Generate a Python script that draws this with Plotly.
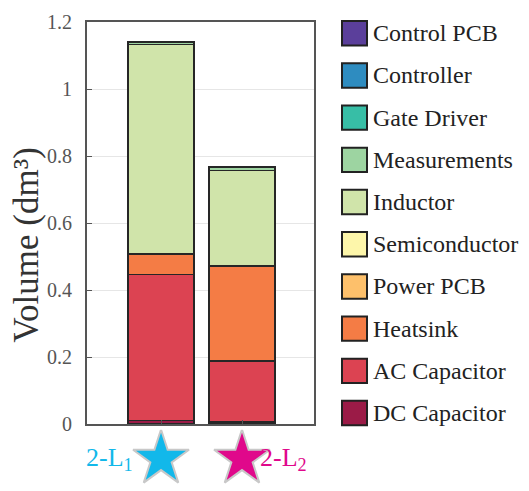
import plotly.graph_objects as go

# Daten (Volumen in dm^3), von unten nach oben gestapelt
topologies = ["2-L1", "2-L2"]
components = ["DC Capacitor", "AC Capacitor", "Heatsink", "Power PCB", "Semiconductor",
              "Inductor", "Measurements", "Gate Driver", "Controller", "Control PCB"]
dc_capacitor = [0.011, 0.006]
ac_capacitor = [0.435, 0.182]
heatsink = [0.061, 0.284]
power_pcb = [0.0, 0.0]
semiconductor = [0.0, 0.0]
inductor = [0.626, 0.285]
measurements = [0.007, 0.009]
gate_driver = [0.001, 0.001]
controller = [0.0, 0.0]
control_pcb = [0.0, 0.0]

values = [dc_capacitor, ac_capacitor, heatsink, power_pcb, semiconductor,
          inductor, measurements, gate_driver, controller, control_pcb]
colors = ["#9b1b47", "#dc4352", "#f47c45", "#fdc06b", "#fdf6aa",
          "#d0e4aa", "#9dd4a1", "#37bea6", "#2e8cc0", "#5b3f9b"]

star_labels = ["2-L<sub>1</sub>", "2-L<sub>2</sub>"]
star_colors = ["#12b8ea", "#e0088b"]

FONT = "Liberation Serif, Times New Roman, Times, serif"
W, H = 529, 491
L, R, T, B = 79, 223, 14, 0
pw, ph = W - L - R, H - T - B
# Hauptplot endet bei y=425.5 px, darunter Streifen fuer die Sterne
main_bottom = (H - 425.5) / ph

fig = go.Figure()
for name, vals, col in zip(components, values, colors):
    fig.add_trace(go.Bar(
        x=topologies, y=vals, name=name, width=0.81,
        marker=dict(color=col, line=dict(color="#262626", width=1.5)),
        showlegend=False,
    ))

# Sterne unter den Balken (eigener Subplot)
fig.add_trace(go.Scatter(
    x=topologies, y=[0, 0], mode="markers", xaxis="x2", yaxis="y2",
    marker=dict(symbol="star", size=42, color=star_colors,
                line=dict(color="#c8c8c8", width=2)),
    showlegend=False, hoverinfo="skip",
))
fig.add_annotation(x=topologies[0], y=0, xref="x2", yref="y2", xshift=-26,
                   text=star_labels[0], showarrow=False, xanchor="right",
                   font=dict(family=FONT, size=26, color=star_colors[0]))
fig.add_annotation(x=topologies[1], y=0, xref="x2", yref="y2", xshift=16,
                   text=star_labels[1], showarrow=False, xanchor="left",
                   font=dict(family=FONT, size=26, color=star_colors[1]))

# Legende von Hand (grosse Quadrate)
def px(x):
    return (x - L) / pw

def py(y):
    return (H - B - y) / ph

for i, (name, col) in enumerate(zip(components[::-1], colors[::-1])):
    cy = 25.5 + i * 43.2
    fig.add_shape(type="rect", xref="paper", yref="paper",
                  x0=px(334), x1=px(359), y0=py(cy - 12.5), y1=py(cy + 12.5),
                  fillcolor=col, line=dict(color="#222222", width=2))
    fig.add_annotation(xref="paper", yref="paper", x=px(363), y=py(cy),
                       text=name, showarrow=False, xanchor="left", yanchor="middle",
                       font=dict(family=FONT, size=24, color="#222222"))

# Achsentitel als Annotation (leicht nach unten versetzt wie im Original)
fig.add_annotation(xref="paper", yref="paper", x=px(19), y=py(242),
                   text="Volume (dm³)", showarrow=False, textangle=-90,
                   xanchor="center", yanchor="middle",
                   font=dict(family=FONT, size=35, color="#333333"))

xrange = [-0.914, 1.889]
fig.update_layout(
    width=W, height=H,
    margin=dict(l=L, r=R, t=T, b=B),
    barmode="stack",
    plot_bgcolor="white", paper_bgcolor="white",
    font=dict(family=FONT),
    xaxis=dict(range=xrange, showticklabels=False, ticks="inside",
               ticklen=4, tickcolor="#555555", showgrid=False,
               showline=True, mirror=True, linecolor="#555555", linewidth=2),
    yaxis=dict(range=[0, 1.2], dtick=0.2, ticks="inside", ticklen=5,
               domain=[main_bottom, 1], ticklabelstandoff=9,
               tickcolor="#555555", showgrid=True, gridcolor="#e6e6e6",
               showline=True, mirror=True, linecolor="#555555", linewidth=2,
               zeroline=False,
               tickfont=dict(family=FONT, size=20, color="#555555")),
    xaxis2=dict(range=xrange, anchor="y2", visible=False),
    yaxis2=dict(range=[-1, 1], domain=[0, 0.125], anchor="x2", visible=False),
)

fig.write_html("out.html")
